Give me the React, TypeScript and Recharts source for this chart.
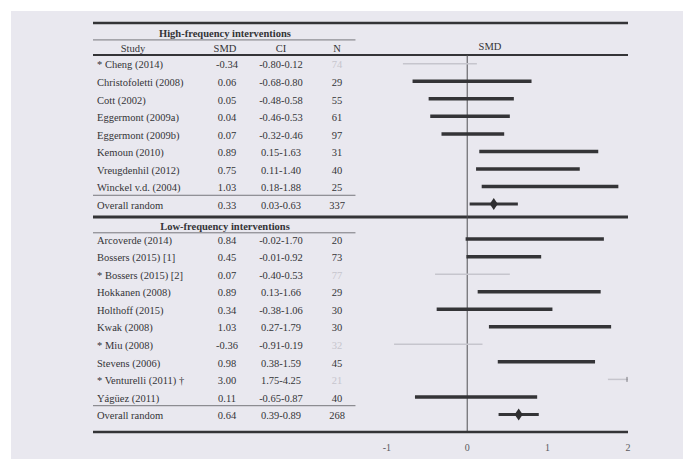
import React from "react";
import {
  ComposedChart,
  Scatter,
  ErrorBar,
  XAxis,
  YAxis,
  ReferenceLine,
} from "recharts";

// ---------- data ----------
const highStudies = [
  "* Cheng (2014)",
  "Christofoletti (2008)",
  "Cott (2002)",
  "Eggermont (2009a)",
  "Eggermont (2009b)",
  "Kemoun (2010)",
  "Vreugdenhil (2012)",
  "Winckel v.d. (2004)",
];
const highSmd = [-0.34, 0.06, 0.05, 0.04, 0.07, 0.89, 0.75, 1.03];
const highLow = [-0.8, -0.68, -0.48, -0.46, -0.32, 0.15, 0.11, 0.18];
const highHigh = [0.12, 0.8, 0.58, 0.53, 0.46, 1.63, 1.4, 1.88];
const highN = [74, 29, 55, 61, 97, 31, 40, 25];
const highExcluded = [true, false, false, false, false, false, false, false];

const lowStudies = [
  "Arcoverde (2014)",
  "Bossers (2015) [1]",
  "* Bossers (2015) [2]",
  "Hokkanen (2008)",
  "Holthoff (2015)",
  "Kwak (2008)",
  "* Miu (2008)",
  "Stevens (2006)",
  "* Venturelli (2011) †",
  "Yágüez (2011)",
];
const lowSmd = [0.84, 0.45, 0.07, 0.89, 0.34, 1.03, -0.36, 0.98, 3.0, 0.11];
const lowLow = [-0.02, -0.01, -0.4, 0.13, -0.38, 0.27, -0.91, 0.38, 1.75, -0.65];
const lowHigh = [1.7, 0.92, 0.53, 1.66, 1.06, 1.79, 0.19, 1.59, 4.25, 0.87];
const lowN = [20, 73, 77, 29, 30, 30, 32, 45, 21, 40];
const lowExcluded = [false, false, true, false, false, false, true, false, true, false];

const overallLabel = "Overall random";
const overallSmd = [0.33, 0.64];
const overallLow = [0.03, 0.39];
const overallHigh = [0.63, 0.89];
const overallN = [337, 268];

const groupTitles = ["High-frequency interventions", "Low-frequency interventions"];
const columnHeaders = ["Study", "SMD", "CI", "N"];
const xTicks = [-1, 0, 1, 2];

// ---------- layout constants ----------
const W = 683;
const H = 459;
const X_MIN = -4.655;
const X_MAX = 2;
const Y_MIN = -0.5;
const Y_MAX = 21;
const TABLE_END = -1.39;
const FONT = '"Liberation Serif", "Times New Roman", serif';
const DARK = "#343437";
const FAINT = "#c6c5cd";

type Row = {
  k: number;
  label: string;
  smd: number;
  low: number;
  high: number;
  n: number;
  faint: boolean;
  overall: boolean;
};

const rows: Row[] = [];
highStudies.forEach((label, i) =>
  rows.push({
    k: i,
    label,
    smd: highSmd[i],
    low: highLow[i],
    high: highHigh[i],
    n: highN[i],
    faint: highExcluded[i],
    overall: false,
  })
);
rows.push({
  k: 8,
  label: overallLabel,
  smd: overallSmd[0],
  low: overallLow[0],
  high: overallHigh[0],
  n: overallN[0],
  faint: false,
  overall: true,
});
lowStudies.forEach((label, i) =>
  rows.push({
    k: 10 + i,
    label,
    smd: lowSmd[i],
    low: lowLow[i],
    high: lowHigh[i],
    n: lowN[i],
    faint: lowExcluded[i],
    overall: false,
  })
);
rows.push({
  k: 20,
  label: overallLabel,
  smd: overallSmd[1],
  low: overallLow[1],
  high: overallHigh[1],
  n: overallN[1],
  faint: false,
  overall: true,
});

const toPoint = (r: Row) => {
  const x = Math.min(r.smd, X_MAX);
  const hi = Math.min(r.high, X_MAX);
  return { x, k: r.k, err: [x - r.low, hi - x], clipped: r.high > X_MAX };
};

const solidData = rows.filter((r) => !r.faint && !r.overall).map(toPoint);
const faintData = rows.filter((r) => r.faint).map(toPoint);
const overallData = rows.filter((r) => r.overall).map(toPoint);
const tableData = rows.map((r) => ({ x: X_MIN, k: r.k, row: r }));

const fmt = (v: number) => v.toFixed(2);

const COL_STUDY = 97;
const COL_SMD = 227;
const COL_CI = 281;
const COL_N = 337;

function RowText(props: any) {
  const { cy, payload } = props;
  const row: Row | undefined = payload && payload.row;
  if (!row || cy == null) return <g />;
  const common = {
    y: cy + 1,
    dy: "0.35em",
    fontSize: 10.5,
    fontFamily: FONT,
    fill: DARK,
  } as const;
  return (
    <g>
      <text {...common} x={COL_STUDY} textAnchor="start">
        {row.label}
      </text>
      <text {...common} x={COL_SMD} textAnchor="middle">
        {fmt(row.smd)}
      </text>
      <text {...common} x={COL_CI} textAnchor="middle">
        {fmt(row.low) + "-" + fmt(row.high)}
      </text>
      <text
        {...common}
        x={COL_N}
        textAnchor="middle"
        fill={row.faint ? FAINT : DARK}
      >
        {row.n}
      </text>
    </g>
  );
}

// Nothing at the point itself; a small truncation mark where a CI runs past the axis.
const FaintShape = (props: any) => {
  const { cy, payload, xAxis } = props;
  if (!payload || !payload.clipped || cy == null) return <g />;
  const ex = xAxis && xAxis.scale ? xAxis.scale(X_MAX) : props.cx;
  return (
    <g stroke="#7a7a80" strokeWidth={1}>
      <line x1={ex - 1} y1={cy - 2.5} x2={ex - 1} y2={cy + 2.5} />
      <line x1={ex + 1} y1={cy - 2.5} x2={ex + 1} y2={cy + 2.5} />
    </g>
  );
};

const Empty = () => <g />;

const Diamond = (props: any) => {
  const { cx, cy } = props;
  if (cx == null || cy == null) return <g />;
  return (
    <polygon
      points={`${cx - 4},${cy} ${cx},${cy - 6} ${cx + 4},${cy} ${cx},${cy + 6}`}
      fill="#2e2e30"
    />
  );
};

export default function App() {
  return (
    <div
      style={{
        position: "absolute",
        left: 0,
        top: 0,
        width: W,
        height: H,
        background: "#ffffff",
        overflow: "hidden",
        fontFamily: FONT,
      }}
    >
      <div
        style={{
          position: "absolute",
          left: 11,
          top: 11,
          right: 0,
          bottom: 0,
          background: "#e9e8ef",
        }}
      />
      <div style={{ position: "absolute", left: 0, top: 0 }}>
        <ComposedChart
          width={W}
          height={H}
          margin={{ top: 55, right: 55, bottom: 0, left: 93 }}
        >
          <XAxis
            type="number"
            dataKey="x"
            domain={[X_MIN, X_MAX]}
            ticks={xTicks}
            allowDataOverflow
            height={27}
            axisLine={{ stroke: DARK, strokeWidth: 2.5 }}
            tickLine={false}
            tickMargin={6}
            tick={{ fontSize: 10, fontFamily: FONT, fill: "#5a5a5e" }}
          />
          <YAxis
            type="number"
            dataKey="k"
            domain={[Y_MIN, Y_MAX]}
            reversed
            allowDataOverflow
            hide
          />
          {/* table / plot rules */}
          <ReferenceLine y={-2.33} ifOverflow="visible" stroke={DARK} strokeWidth={2.5} />
          <ReferenceLine
            ifOverflow="visible"
            segment={[
              { x: X_MIN, y: -1.36 },
              { x: TABLE_END, y: -1.36 },
            ]}
            stroke="#77777c"
            strokeWidth={1}
          />
          <ReferenceLine y={-0.5} ifOverflow="visible" stroke={DARK} strokeWidth={2} />
          <ReferenceLine
            ifOverflow="visible"
            segment={[
              { x: X_MIN, y: 7.5 },
              { x: TABLE_END, y: 7.5 },
            ]}
            stroke="#77777c"
            strokeWidth={1}
          />
          <ReferenceLine y={8.74} ifOverflow="visible" stroke={DARK} strokeWidth={3} />
          <ReferenceLine
            ifOverflow="visible"
            segment={[
              { x: X_MIN, y: 9.64 },
              { x: TABLE_END, y: 9.64 },
            ]}
            stroke="#77777c"
            strokeWidth={1}
          />
          <ReferenceLine
            ifOverflow="visible"
            segment={[
              { x: X_MIN, y: 19.5 },
              { x: TABLE_END, y: 19.5 },
            ]}
            stroke="#77777c"
            strokeWidth={1}
          />
          <ReferenceLine
            ifOverflow="visible"
            segment={[
              { x: 0, y: Y_MIN },
              { x: 0, y: Y_MAX },
            ]}
            stroke="#505054"
            strokeWidth={1}
          />
          <Scatter data={tableData} shape={RowText} isAnimationActive={false} />
          <Scatter data={faintData} shape={FaintShape} isAnimationActive={false}>
            <ErrorBar
              dataKey="err"
              direction="x"
              width={0}
              stroke={FAINT}
              strokeWidth={1.5}
              isAnimationActive={false}
            />
          </Scatter>
          <Scatter data={solidData} shape={Empty} isAnimationActive={false}>
            <ErrorBar
              dataKey="err"
              direction="x"
              width={0}
              stroke={DARK}
              strokeWidth={3.5}
              isAnimationActive={false}
            />
          </Scatter>
          <Scatter data={overallData} shape={Diamond} isAnimationActive={false}>
            <ErrorBar
              dataKey="err"
              direction="x"
              width={0}
              stroke={DARK}
              strokeWidth={3}
              isAnimationActive={false}
            />
          </Scatter>
        </ComposedChart>
      </div>
      <svg
        width={W}
        height={H}
        style={{ position: "absolute", left: 0, top: 0, pointerEvents: "none" }}
      >
        <g fontFamily={FONT} fill={DARK}>
          <text x={225} y={33} dy="0.35em" textAnchor="middle" fontSize={10.5} fontWeight="bold">
            {groupTitles[0]}
          </text>
          <text x={225} y={226} dy="0.35em" textAnchor="middle" fontSize={10.5} fontWeight="bold">
            {groupTitles[1]}
          </text>
          <text x={133} y={48} dy="0.35em" textAnchor="middle" fontSize={10.5}>
            {columnHeaders[0]}
          </text>
          <text x={COL_SMD - 2} y={48} dy="0.35em" textAnchor="middle" fontSize={10.5}>
            {columnHeaders[1]}
          </text>
          <text x={COL_CI} y={48} dy="0.35em" textAnchor="middle" fontSize={10.5}>
            {columnHeaders[2]}
          </text>
          <text x={COL_N} y={48} dy="0.35em" textAnchor="middle" fontSize={10.5}>
            {columnHeaders[3]}
          </text>
          <text x={490} y={46} dy="0.35em" textAnchor="middle" fontSize={10.5}>
            {columnHeaders[1]}
          </text>
        </g>
      </svg>
    </div>
  );
}
